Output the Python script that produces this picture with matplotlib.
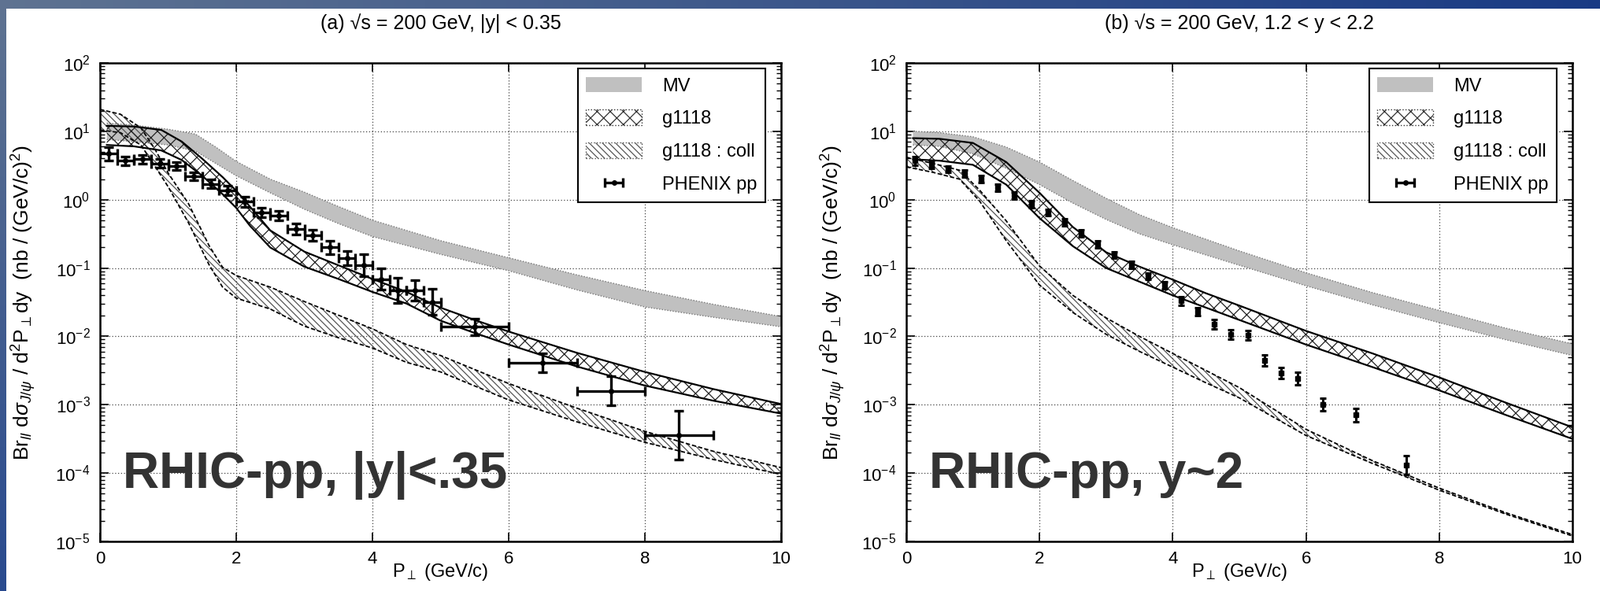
import numpy as np
import matplotlib
matplotlib.use("Agg")
import matplotlib.pyplot as plt
from matplotlib.patches import Patch
from matplotlib.ticker import LogLocator, FixedLocator, NullFormatter, LogFormatterMathtext

plt.rcParams["font.family"] = ["Liberation Sans", "DejaVu Sans"]
plt.rcParams["mathtext.fontset"] = "custom"
plt.rcParams["mathtext.rm"] = "Liberation Sans"
plt.rcParams["mathtext.it"] = "Liberation Sans:italic"
plt.rcParams["mathtext.bf"] = "Liberation Sans:bold"
plt.rcParams["hatch.linewidth"] = 0.9

# ---------------- panel (a): |y| < 0.35   (band edges in log10) ----------------
mv_a_x = [0.1, 0.5, 1.0, 1.4, 1.7, 2.0, 2.5, 3.0, 3.5, 4.0, 5.0, 6.0, 7.0, 8.0, 9.0, 10.0]
mv_a_hi = [1.12, 1.09, 1.03, 0.96, 0.77, 0.56, 0.30, 0.11, -0.10, -0.30, -0.60, -0.85, -1.10, -1.33, -1.53, -1.71]
mv_a_lo = [0.88, 0.85, 0.80, 0.71, 0.53, 0.35, 0.10, -0.14, -0.35, -0.54, -0.80, -1.04, -1.32, -1.57, -1.72, -1.86]

g_a_x = [0.1, 0.5, 0.9, 1.2, 1.5, 1.8, 2.0, 2.2, 2.5, 3.0, 3.5, 4.0, 4.5, 5.0, 5.5, 6.0, 7.0, 8.0, 9.0, 10.0]
g_a_hi = [1.08, 1.07, 1.02, 0.85, 0.60, 0.33, 0.13, -0.10, -0.45, -0.76, -0.96, -1.16, -1.35, -1.58, -1.76, -1.93, -2.24, -2.52, -2.77, -2.99]
g_a_lo = [0.80, 0.78, 0.72, 0.58, 0.35, 0.08, -0.12, -0.38, -0.70, -0.98, -1.16, -1.35, -1.52, -1.77, -1.95, -2.12, -2.44, -2.72, -2.94, -3.13]

c_a_x = [0.0, 0.3, 0.6, 0.8, 1.0, 1.3, 1.6, 1.8, 2.0, 2.5, 3.0, 3.5, 4.0, 4.5, 5.0, 6.0, 7.0, 8.0, 9.0, 10.0]
c_a_hi = [1.32, 1.25, 1.05, 0.75, 0.39, -0.06, -0.67, -0.99, -1.11, -1.28, -1.49, -1.69, -1.89, -2.12, -2.28, -2.69, -3.05, -3.39, -3.68, -3.92]
c_a_lo = [1.02, 0.98, 0.80, 0.50, 0.19, -0.34, -0.95, -1.28, -1.44, -1.60, -1.85, -2.02, -2.17, -2.38, -2.52, -2.93, -3.25, -3.55, -3.80, -4.02]

# PHENIX pp, |y| < 0.35
ph_a_x = [0.125, 0.375, 0.625, 0.875, 1.125, 1.375, 1.625, 1.875, 2.125, 2.375, 2.625, 2.875,
          3.125, 3.375, 3.625, 3.875, 4.125, 4.375, 4.625, 4.875, 5.5, 6.5, 7.5, 8.5]
ph_a_xerr = [0.125] * 20 + [0.5] * 4
ph_a_y = [4.7, 3.7, 3.9, 3.4, 3.1, 2.2, 1.7, 1.36, 0.93, 0.65, 0.59, 0.37,
          0.30, 0.20, 0.14, 0.11, 0.069, 0.047, 0.047, 0.032, 0.0138, 0.0041, 0.0016, 0.00036]
ph_a_dex = [0.10, 0.06, 0.06, 0.06, 0.06, 0.06, 0.06, 0.07, 0.07, 0.07, 0.07, 0.08,
            0.08, 0.10, 0.10, 0.16, 0.16, 0.18, 0.15, 0.19, 0.12, 0.14, 0.21, 0.36]

# ---------------- panel (b): 1.2 < y < 2.2 ----------------
mv_b_x = [0.1, 0.5, 1.0, 1.5, 2.0, 2.5, 3.0, 3.5, 4.0, 5.0, 6.0, 7.0, 8.0, 9.0, 10.0]
mv_b_hi = [1.00, 0.98, 0.92, 0.77, 0.55, 0.28, 0.02, -0.22, -0.41, -0.75, -1.07, -1.36, -1.62, -1.88, -2.11]
mv_b_lo = [0.80, 0.78, 0.67, 0.46, 0.22, -0.05, -0.29, -0.50, -0.66, -0.96, -1.26, -1.54, -1.80, -2.05, -2.28]

g_b_x = [0.1, 0.5, 1.0, 1.5, 2.0, 2.5, 3.0, 3.5, 4.0, 4.5, 5.0, 6.0, 7.0, 8.0, 9.0, 10.0]
g_b_hi = [0.90, 0.89, 0.83, 0.55, 0.10, -0.40, -0.77, -0.98, -1.17, -1.37, -1.55, -1.92, -2.25, -2.60, -2.97, -3.33]
g_b_lo = [0.59, 0.57, 0.51, 0.22, -0.27, -0.68, -1.00, -1.20, -1.40, -1.58, -1.76, -2.12, -2.45, -2.79, -3.15, -3.50]

c_b_x = [0.0, 0.4, 0.8, 1.1, 1.5, 2.0, 2.5, 3.0, 3.5, 4.0, 4.5, 5.0, 6.0, 7.0, 8.0, 9.0, 10.0]
c_b_hi = [0.62, 0.53, 0.43, 0.14, -0.31, -0.97, -1.40, -1.73, -2.00, -2.25, -2.50, -2.75, -3.36, -3.82, -4.22, -4.58, -4.90]
c_b_lo = [0.48, 0.40, 0.30, -0.02, -0.60, -1.25, -1.65, -1.97, -2.22, -2.45, -2.68, -2.90, -3.45, -3.86, -4.25, -4.60, -4.92]

# PHENIX pp, 1.2 < y < 2.2
ph_b_x = [0.125, 0.375, 0.625, 0.875, 1.125, 1.375, 1.625, 1.875, 2.125, 2.375, 2.625, 2.875,
          3.125, 3.375, 3.625, 3.875, 4.125, 4.375, 4.625, 4.875, 5.125, 5.375, 5.625, 5.875,
          6.25, 6.75, 7.5]
ph_b_y = [3.7, 3.2, 2.8, 2.4, 2.0, 1.5, 1.15, 0.86, 0.65, 0.47, 0.32, 0.22,
          0.155, 0.112, 0.076, 0.056, 0.033, 0.023, 0.015, 0.0107, 0.0104, 0.0044, 0.0029, 0.0024,
          0.0010, 0.00071, 0.00013]
ph_b_dex = [0.06, 0.05, 0.05, 0.05, 0.05, 0.05, 0.05, 0.05, 0.05, 0.05, 0.05, 0.05,
            0.05, 0.05, 0.05, 0.05, 0.06, 0.06, 0.07, 0.07, 0.07, 0.08, 0.08, 0.09,
            0.09, 0.10, 0.14]

titles = ["(a) √s = 200 GeV, |y| < 0.35", "(b) √s = 200 GeV, 1.2 < y < 2.2"]
tags = ["RHIC-pp, |y|<.35", "RHIC-pp, y~2"]
legend_labels = ["MV", "g1118", "g1118 : coll", "PHENIX pp"]

YLABEL = r"Br$_{ll}$ d$\sigma_{J/\psi}$ / d$^2$P$_\perp$dy  (nb / (GeV/c)$^2$)"
XLABEL = r"P$_\perp$ (GeV/c)"


def band(ax, x, lo, hi, kind):
    x = np.asarray(x)
    lo = np.power(10.0, lo)
    hi = np.power(10.0, hi)
    if kind == "mv":
        ax.fill_between(x, lo, hi, facecolor="#c0c0c0", edgecolor="none", zorder=2)
        for e in (lo, hi):
            ax.plot(x, e, color="#777777", lw=1.0, ls=(0, (1, 1.5)), zorder=2.1)
    elif kind == "g":
        ax.fill_between(x, lo, hi, facecolor="none", edgecolor="#222222",
                        hatch="xx", linewidth=0, zorder=3)
        for e in (lo, hi):
            ax.plot(x, e, color="black", lw=1.6, zorder=3.1)
    else:
        ax.fill_between(x, lo, hi, facecolor="none", edgecolor="#555555",
                        hatch="\\\\\\\\", linewidth=0, zorder=2.5)
        for e in (lo, hi):
            ax.plot(x, e, color="black", lw=1.3, ls=(0, (3, 1.5)), zorder=2.6)


def style_axes(ax, title, tag, ylab_x):
    ax.set_xlim(0, 10)
    ax.set_yscale("log")
    ax.set_ylim(1e-5, 1e2)
    ax.xaxis.set_major_locator(FixedLocator([0, 2, 4, 6, 8, 10]))
    ax.yaxis.set_major_locator(LogLocator(base=10, numticks=10))
    ax.yaxis.set_major_formatter(LogFormatterMathtext())
    ax.yaxis.set_minor_locator(LogLocator(base=10, subs=np.arange(2, 10), numticks=20))
    ax.yaxis.set_minor_formatter(NullFormatter())
    ax.tick_params(which="both", direction="in", top=True, right=True, labelsize=16)
    ax.tick_params(which="major", length=8, width=1.2, pad=9)
    ax.tick_params(which="minor", length=4, width=1.0)
    ax.grid(True, which="major", color="#444444", lw=0.9, ls=(0, (1, 2)))
    for s in ax.spines.values():
        s.set_linewidth(1.8)
    ax.set_title(title, fontsize=18, pad=31)
    ax.set_xlabel(XLABEL, fontsize=17)
    ax.xaxis.set_label_coords(0.5, -0.043)
    ax.set_ylabel(YLABEL, fontsize=19)
    ax.yaxis.set_label_coords(ylab_x, 0.5)
    ax.text(0.034, 0.112, tag, transform=ax.transAxes, fontsize=46, fontweight="bold",
            color="#333333", ha="left", va="baseline", zorder=10)


def add_legend(ax, width_px):
    h_mv = Patch(facecolor="#c0c0c0", edgecolor="none")
    h_g = Patch(facecolor="white", edgecolor="#333333", hatch="xx", ls=":", lw=1.0)
    h_c = Patch(facecolor="white", edgecolor="#555555", hatch="\\\\\\\\", ls=":", lw=1.0)
    h_ph = ax.errorbar([np.nan], [np.nan], xerr=[[1.0], [1.0]], fmt="o", ms=4, color="black",
                       lw=2.4, capsize=4, capthick=2.4)
    leg = ax.legend([h_mv, h_g, h_c, h_ph], legend_labels, loc="upper right", fontsize=17,
                    bbox_to_anchor=(1 - 20 / width_px, 1 - 7 / 608), borderaxespad=0,
                    frameon=True, fancybox=False, framealpha=1, edgecolor="black",
                    handlelength=3.0, handleheight=0.9, labelspacing=0.8,
                    borderpad=0.45, handletextpad=1.1)
    leg.get_frame().set_linewidth(1.5)
    leg.set_zorder(20)


fig = plt.figure(figsize=(20.33, 7.51), dpi=100)
ax_a = fig.add_axes([127 / 2033, 63 / 751, 865 / 2033, 608 / 751])
ax_b = fig.add_axes([1151 / 2033, 63 / 751, 846 / 2033, 608 / 751])

# panel (a)
band(ax_a, mv_a_x, mv_a_lo, mv_a_hi, "mv")
band(ax_a, c_a_x, c_a_lo, c_a_hi, "c")
band(ax_a, g_a_x, g_a_lo, g_a_hi, "g")
ya = np.asarray(ph_a_y)
ea = np.asarray(ph_a_dex)
ax_a.errorbar(ph_a_x, ya, xerr=ph_a_xerr, yerr=[ya - ya * 10 ** -ea, ya * 10 ** ea - ya],
              fmt="o", ms=4, color="black", lw=2.4, capsize=4, capthick=2.4, zorder=6)

# panel (b)
band(ax_b, mv_b_x, mv_b_lo, mv_b_hi, "mv")
band(ax_b, c_b_x, c_b_lo, c_b_hi, "c")
band(ax_b, g_b_x, g_b_lo, g_b_hi, "g")
yb = np.asarray(ph_b_y)
eb = np.asarray(ph_b_dex)
ax_b.errorbar(ph_b_x, yb, yerr=[yb - yb * 10 ** -eb, yb * 10 ** eb - yb],
              fmt="s", ms=5, color="black", lw=2.2, capsize=3, capthick=2.2, zorder=6)

for ax, t, g, lx, w in zip([ax_a, ax_b], titles, tags, [-0.091, -0.089], [865, 846]):
    style_axes(ax, t, g, lx)
    add_legend(ax, w)

# blue slide frame: top and left gradient bars
top_bar = fig.add_axes([0, 1 - 11 / 751, 1, 11 / 751])
grad_h = np.linspace(0, 1, 256).reshape(1, -1)
c0 = np.array([0.37, 0.45, 0.57])
c1 = np.array([0.10, 0.23, 0.52])
top_bar.imshow(c0 + (c1 - c0) * grad_h[..., None], aspect="auto")
top_bar.axis("off")
left_bar = fig.add_axes([0, 0, 8 / 2033, 1 - 11 / 751])
grad_v = np.linspace(0, 1, 256).reshape(-1, 1)
c2 = np.array([0.16, 0.29, 0.56])
left_bar.imshow(c0 + (c2 - c0) * grad_v[..., None], aspect="auto")
left_bar.axis("off")

fig.savefig("out.png", dpi=100)
